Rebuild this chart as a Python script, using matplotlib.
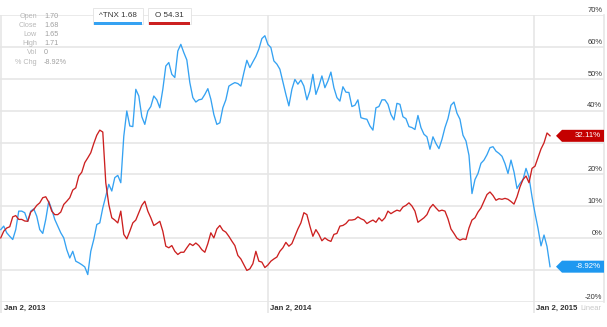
import numpy as np
import pandas as pd
import matplotlib
matplotlib.use('Agg')
import matplotlib.pyplot as plt
import matplotlib.dates as mdates
import matplotlib.transforms as mtransforms
from matplotlib.patches import Rectangle, Polygon

plt.rcParams['font.family'] = ['Liberation Sans', 'DejaVu Sans']

# % change since Jan 2, 2013 (sampled every few days)
tnx = [2.7, 3.8, 1.7, 0.6, -0.4, 2.7, 8.5, 8.5, 8.0, 5.3, 8.5, 9.2, 6.9, 2.7, 1.5, 5.9, 11.6,
       9.0, 5.9, 3.8, 1.7, 0.1, -3.6, -6.2, -4.1, -7.2, -7.7, -8.3, -9.0, -11.4, -4.1, -0.4, 4.3, 4.8,
       9.5, 13.2, 16.9, 14.8, 19.0, 19.7, 17.4, 32.0, 39.9, 35.2, 35.0, 46.7, 44.6, 38.1, 35.7, 39.9,
       41.3, 44.6, 43.4, 40.9, 46.7, 54.0, 55.1, 51.4, 50.4, 58.7, 60.8, 58.2, 55.9, 48.8, 44.1, 42.7, 43.4,
       43.6, 45.1, 46.9, 43.6, 38.8, 35.7, 36.2, 40.9, 43.4, 47.7, 48.3, 48.8, 48.5, 47.7, 51.9, 55.8,
       53.5, 55.3, 57.0, 59.3, 62.6, 63.5, 60.8, 59.8, 55.6, 54.6, 53.0, 49.0, 45.1, 41.5, 46.7, 49.8, 48.3,
       49.6, 47.7, 43.4, 46.2, 51.4, 45.1, 47.7, 50.9, 47.2, 49.3, 52.1, 47.2, 44.1, 43.0, 47.5, 45.8,
       45.7, 41.3, 41.7, 43.4, 37.8, 37.5, 37.3, 35.2, 33.9, 40.9, 41.3, 43.4, 43.4, 42.0, 38.8, 37.1, 42.3, 42.0,
       38.1, 37.5, 35.0, 34.7, 34.1, 38.5, 34.7, 32.6, 31.8, 27.9, 31.8, 29.7, 28.1, 31.0, 34.7, 37.5,
       41.7, 42.7, 39.2, 37.3, 32.3, 30.5, 26.0, 14.0, 18.4, 20.3, 23.5, 24.5, 26.2, 28.4, 28.7, 27.3, 26.6,
       25.7, 23.4, 20.3, 24.5, 20.8, 15.6, 17.2, 18.4, 21.9, 19.1, 13.0, 7.8, 3.1, -2.4, 1.0, -2.6, -8.92]

o = [0.1, 2.2, 3.2, 3.6, 6.7, 7.1, 5.9, 5.9, 5.4, 5.3, 8.2, 9.0, 10.3, 11.1, 12.7, 13.0, 11.3,
     8.5, 7.4, 7.4, 8.2, 10.6, 11.6, 12.7, 15.1, 15.8, 19.5, 20.7, 23.7, 25.2, 26.8, 29.7, 32.3, 33.9,
     33.3, 17.4, 10.6, 6.4, 5.7, 4.8, 8.5, 1.2, -0.2, 2.2, 4.8, 5.7, 8.0, 10.3, 11.6, 8.5,
     6.4, 4.0, 4.6, 5.3, 2.2, -2.5, -3.0, -2.3, -4.1, -5.1, -4.4, -4.4, -3.0, -1.7, -2.3, -1.5, -2.3,
     -3.6, -4.4, -1.7, 1.7, 0.1, 2.9, 4.0, 2.5, 1.9, 0.6, -0.9, -2.3, -5.4, -6.5, -8.3, -10.1,
     -9.6, -8.0, -4.1, -7.2, -7.5, -9.2, -8.4, -7.2, -6.5, -5.9, -4.1, -3.0, -1.3, -2.5, -1.7, 0.6, 2.9,
     4.8, 8.0, 7.4, 3.8, 0.6, 2.7, 1.2, -0.8, 0.1, -0.6, -1.0, 1.2, 1.5, 3.8, 4.0, 4.6,
     5.7, 5.7, 5.9, 6.7, 6.1, 5.7, 4.6, 5.2, 5.7, 5.0, 6.4, 5.4, 6.4, 8.5, 7.7, 8.3, 8.8, 8.5,
     9.8, 10.3, 11.1, 10.1, 8.5, 5.0, 5.7, 6.4, 7.4, 9.5, 10.6, 9.5, 8.5, 8.8, 8.5, 6.1,
     2.9, 1.5, 0.0, -0.6, -0.2, -0.4, 3.2, 5.7, 6.4, 8.2, 9.5, 11.6, 13.7, 14.5, 13.4, 11.9, 12.4,
     12.2, 12.5, 12.2, 11.5, 10.7, 13.0, 16.1, 18.4, 19.5, 17.4, 21.9, 22.6, 25.3, 28.0, 29.9, 33.0, 32.11]

dates = pd.date_range('2013-01-01', '2015-01-24', periods=len(tnx))

series_names = ['^TNX 1.68', 'O 54.31']
info_labels = ['Open', 'Close', 'Low', 'High', 'Vol', '% Chg']
info_values = ['1.70', '1.68', '1.65', '1.71', '0', '-8.92%']
year_ticks = pd.to_datetime(['2013-01-02', '2014-01-02', '2015-01-02'])
year_labels = ['Jan 2, 2013', 'Jan 2, 2014', 'Jan 2, 2015']
pct_ticks = list(range(-20, 80, 10))

blue = '#35a2f2'
blue_tag = '#1e98f0'
red = '#cc2020'
red_tag = '#c40000'
grid = '#e6e6e6'

W, H = 607, 327
fig = plt.figure(figsize=(W / 100, H / 100), dpi=100)
fig.patch.set_facecolor('white')
ax = fig.add_axes([0, 25 / H, 604 / W, 287 / H])


def fx(x):
    return x / W


def fy(y):
    return 1 - y / H


ax.plot(dates, tnx, color=blue, lw=0.95, zorder=3)
ax.plot(dates, o, color=red, lw=0.95, zorder=4)

t0 = pd.Timestamp('2013-01-02')
ax.set_xlim(mdates.date2num(t0 - pd.Timedelta(days=2)), mdates.date2num(t0 + pd.Timedelta(days=826)))
ax.set_ylim(-20, 70)
ax.set_xticks(year_ticks)
ax.set_yticks(pct_ticks)
ax.tick_params(axis='y', length=0, labelleft=False)
ax.tick_params(axis='x', length=8, width=1.2, color=grid, labelbottom=False)
ax.grid(True, color=grid, lw=1.2, zorder=0)
for side in ['top', 'left', 'bottom']:
    ax.spines[side].set_visible(False)
ax.spines['right'].set_color(grid)
ax.spines['right'].set_linewidth(1.2)

# percentage labels on the right, sitting on their gridlines;
# the ones under a last-value tag are covered by it
last_vals = [tnx[-1], o[-1]]
trans = mtransforms.blended_transform_factory(ax.transAxes, ax.transData)
for v in pct_ticks:
    if any(abs(v + 1.5 - lv) < 3.5 for lv in last_vals):
        continue
    ax.text(0.997, v + 0.4, f'{v}%', transform=trans, ha='right', va='bottom',
            fontsize=5.4, color='#333333', zorder=5)

# date labels under the axis
for d, lab in zip(year_ticks, year_labels):
    ax.annotate(lab, (mdates.date2num(d), -20), xytext=(1.5, -2), textcoords='offset points',
                ha='left', va='top', fontsize=5.6, fontweight='bold', color='#333333',
                annotation_clip=False)
fig.text(fx(580), fy(309), 'Linear', ha='left', va='center', fontsize=5.4, color='#c8c8c8')

# last-value tags
fig.canvas.draw()
for vals, col in [(tnx, blue_tag), (o, red_tag)]:
    yc = ax.transData.transform((mdates.date2num(dates[-1]), vals[-1]))[1]
    pts = [(556, yc), (562, yc + 6), (604, yc + 6), (604, yc - 6), (562, yc - 6)]
    fig.add_artist(Polygon(pts, closed=True, facecolor=col, edgecolor='none',
                           transform=mtransforms.IdentityTransform(), zorder=10))
    fig.text(fx(601), yc / H, f'{vals[-1]:.2f}%', ha='right', va='center',
             fontsize=5.7, color='white', zorder=11)

# series boxes at the top
boxes = [(93, 143, blue), (148, 191, red)]
for (x0, x1, col), name in zip(boxes, series_names):
    fig.add_artist(Rectangle((fx(x0), fy(24)), (x1 - x0) / W, 16 / H, transform=fig.transFigure,
                             facecolor='white', edgecolor='#e2e2e2', lw=0.6, zorder=8))
    fig.add_artist(Rectangle((fx(x0 + 1), fy(24.5)), (x1 - x0 - 2) / W, 2 / H,
                             transform=fig.transFigure, facecolor=col, edgecolor='none', zorder=9))
    fig.text(fx((x0 + x1) / 2), fy(15.5), name, ha='center', va='center',
             fontsize=5.8, color='#333333', zorder=9)

# quote details
for i, (lab, val) in enumerate(zip(info_labels, info_values)):
    y = 16 + i * 9.2
    fig.text(fx(37), fy(y), lab, ha='right', va='center', fontsize=5.2, color='#b8b8b8')
    fig.text(fx(44), fy(y), val, ha='left', va='center', fontsize=5.2, color='#a0a0a0')

fig.savefig('out.png', dpi=100)
